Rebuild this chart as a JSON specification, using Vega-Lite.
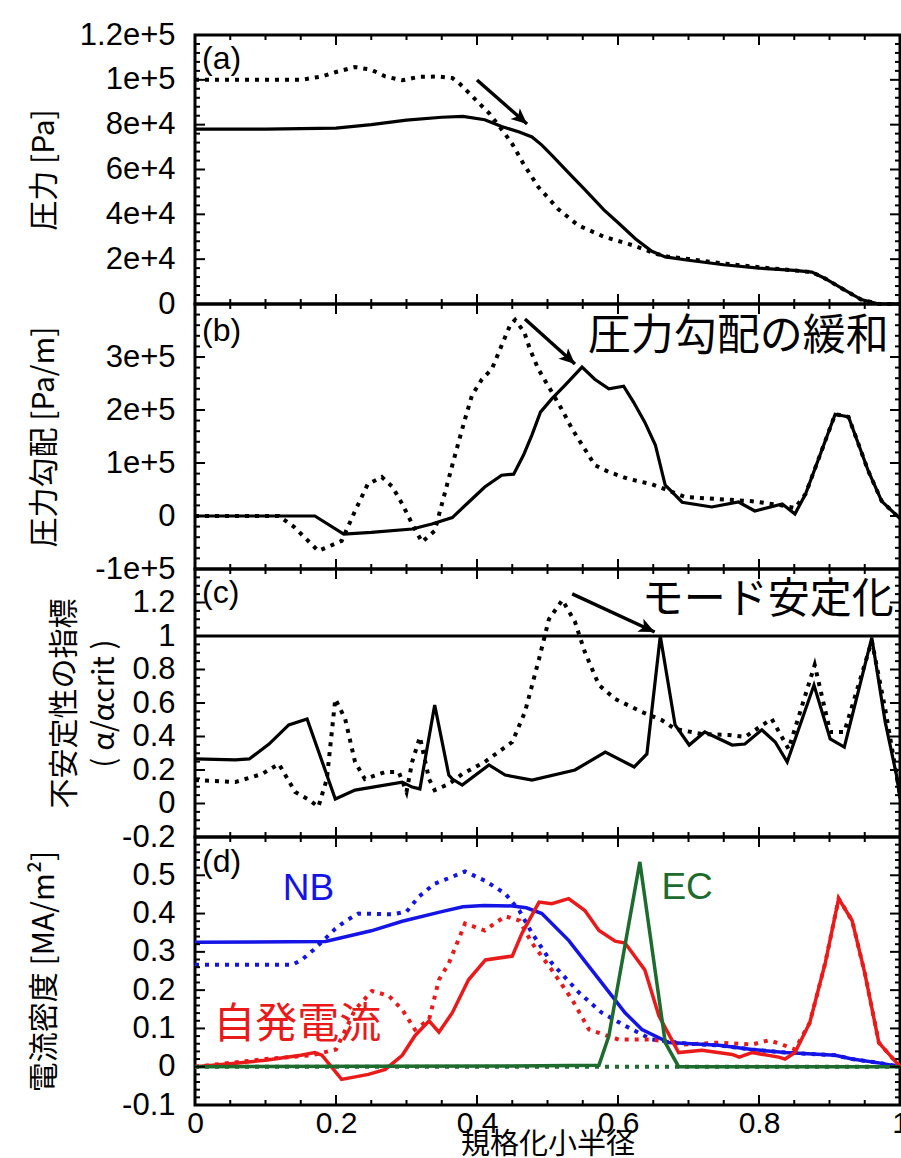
{
  "$schema": "https://vega.github.io/schema/vega-lite/v6.json",
  "padding": {"left": 27, "top": 17, "right": 0, "bottom": 0},
  "spacing": 0,
  "bounds": "flush",
  "datasets": {
    "pa": [
      {"c":"s","r":0,"v":78000},{"c":"s","r":0.1,"v":78000},{"c":"s","r":0.2,"v":78500},{"c":"s","r":0.25,"v":80000},{"c":"s","r":0.3,"v":82000},{"c":"s","r":0.35,"v":83300},{"c":"s","r":0.38,"v":83700},{"c":"s","r":0.411,"v":82200},{"c":"s","r":0.435,"v":79200},{"c":"s","r":0.46,"v":76700},{"c":"s","r":0.478,"v":74500},{"c":"s","r":0.492,"v":70900},{"c":"s","r":0.506,"v":66400},{"c":"s","r":0.53,"v":58500},{"c":"s","r":0.553,"v":51000},{"c":"s","r":0.58,"v":42000},{"c":"s","r":0.601,"v":36000},{"c":"s","r":0.625,"v":29000},{"c":"s","r":0.648,"v":23500},{"c":"s","r":0.667,"v":21000},{"c":"s","r":0.7,"v":19500},{"c":"s","r":0.75,"v":17500},{"c":"s","r":0.8,"v":16000},{"c":"s","r":0.85,"v":15000},{"c":"s","r":0.875,"v":14200},{"c":"s","r":0.893,"v":11500},{"c":"s","r":0.92,"v":6500},{"c":"s","r":0.945,"v":2000},{"c":"s","r":0.97,"v":0},{"c":"s","r":1,"v":0},
      {"c":"d","r":0,"v":100000},{"c":"d","r":0.15,"v":100000},{"c":"d","r":0.18,"v":101500},{"c":"d","r":0.2,"v":103500},{"c":"d","r":0.227,"v":105700},{"c":"d","r":0.25,"v":104500},{"c":"d","r":0.27,"v":101500},{"c":"d","r":0.294,"v":99800},{"c":"d","r":0.317,"v":101300},{"c":"d","r":0.345,"v":101500},{"c":"d","r":0.365,"v":100800},{"c":"d","r":0.376,"v":98100},{"c":"d","r":0.39,"v":93700},{"c":"d","r":0.404,"v":89200},{"c":"d","r":0.418,"v":84800},{"c":"d","r":0.44,"v":75800},{"c":"d","r":0.45,"v":71400},{"c":"d","r":0.465,"v":63000},{"c":"d","r":0.487,"v":52200},{"c":"d","r":0.515,"v":42400},{"c":"d","r":0.543,"v":35200},{"c":"d","r":0.58,"v":30000},{"c":"d","r":0.62,"v":26300},{"c":"d","r":0.655,"v":22300},{"c":"d","r":0.67,"v":21200},{"c":"d","r":0.7,"v":20100},{"c":"d","r":0.75,"v":18100},{"c":"d","r":0.8,"v":16400},{"c":"d","r":0.85,"v":15000},{"c":"d","r":0.875,"v":14200},{"c":"d","r":0.893,"v":11500},{"c":"d","r":0.92,"v":6500},{"c":"d","r":0.945,"v":2000},{"c":"d","r":0.97,"v":0},{"c":"d","r":1,"v":0}
    ],
    "pb": [
      {"c":"s","r":0,"v":0},{"c":"s","r":0.1,"v":0},{"c":"s","r":0.17,"v":0},{"c":"s","r":0.211,"v":-34000},{"c":"s","r":0.25,"v":-31000},{"c":"s","r":0.308,"v":-24500},{"c":"s","r":0.336,"v":-15000},{"c":"s","r":0.365,"v":-3000},{"c":"s","r":0.388,"v":26000},{"c":"s","r":0.411,"v":54700},{"c":"s","r":0.435,"v":77000},{"c":"s","r":0.452,"v":79000},{"c":"s","r":0.466,"v":115000},{"c":"s","r":0.478,"v":153000},{"c":"s","r":0.49,"v":196000},{"c":"s","r":0.506,"v":221000},{"c":"s","r":0.525,"v":247000},{"c":"s","r":0.549,"v":281000},{"c":"s","r":0.567,"v":258000},{"c":"s","r":0.587,"v":240000},{"c":"s","r":0.608,"v":245000},{"c":"s","r":0.622,"v":215000},{"c":"s","r":0.638,"v":177000},{"c":"s","r":0.653,"v":134000},{"c":"s","r":0.667,"v":58000},{"c":"s","r":0.677,"v":45000},{"c":"s","r":0.691,"v":26000},{"c":"s","r":0.733,"v":17000},{"c":"s","r":0.771,"v":26400},{"c":"s","r":0.794,"v":9400},{"c":"s","r":0.833,"v":22600},{"c":"s","r":0.851,"v":3800},{"c":"s","r":0.866,"v":41500},{"c":"s","r":0.908,"v":192000},{"c":"s","r":0.927,"v":187000},{"c":"s","r":0.955,"v":85000},{"c":"s","r":0.974,"v":28000},{"c":"s","r":1,"v":-5000},
      {"c":"d","r":0,"v":0},{"c":"d","r":0.119,"v":0},{"c":"d","r":0.14,"v":-20000},{"c":"d","r":0.175,"v":-66000},{"c":"d","r":0.208,"v":-47000},{"c":"d","r":0.227,"v":9400},{"c":"d","r":0.245,"v":60000},{"c":"d","r":0.265,"v":73600},{"c":"d","r":0.28,"v":55000},{"c":"d","r":0.294,"v":22600},{"c":"d","r":0.31,"v":-20000},{"c":"d","r":0.322,"v":-49000},{"c":"d","r":0.34,"v":-28000},{"c":"d","r":0.365,"v":96000},{"c":"d","r":0.374,"v":140000},{"c":"d","r":0.383,"v":183000},{"c":"d","r":0.393,"v":228000},{"c":"d","r":0.407,"v":258000},{"c":"d","r":0.421,"v":277000},{"c":"d","r":0.435,"v":322000},{"c":"d","r":0.447,"v":360000},{"c":"d","r":0.454,"v":370000},{"c":"d","r":0.467,"v":347000},{"c":"d","r":0.475,"v":315000},{"c":"d","r":0.487,"v":277000},{"c":"d","r":0.506,"v":234000},{"c":"d","r":0.52,"v":202000},{"c":"d","r":0.535,"v":164000},{"c":"d","r":0.553,"v":126000},{"c":"d","r":0.567,"v":96000},{"c":"d","r":0.587,"v":83000},{"c":"d","r":0.615,"v":70000},{"c":"d","r":0.648,"v":60000},{"c":"d","r":0.695,"v":36000},{"c":"d","r":0.74,"v":32000},{"c":"d","r":0.79,"v":28000},{"c":"d","r":0.837,"v":19000},{"c":"d","r":0.851,"v":15000},{"c":"d","r":0.866,"v":41500},{"c":"d","r":0.908,"v":192000},{"c":"d","r":0.927,"v":187000},{"c":"d","r":0.955,"v":85000},{"c":"d","r":0.974,"v":28000},{"c":"d","r":1,"v":-5000}
    ],
    "pc": [
      {"c":"s","r":0,"v":0.266},{"c":"s","r":0.057,"v":0.26},{"c":"s","r":0.077,"v":0.266},{"c":"s","r":0.105,"v":0.355},{"c":"s","r":0.133,"v":0.469},{"c":"s","r":0.159,"v":0.505},{"c":"s","r":0.199,"v":0.027},{"c":"s","r":0.227,"v":0.08},{"c":"s","r":0.294,"v":0.128},{"c":"s","r":0.308,"v":0.098},{"c":"s","r":0.319,"v":0.087},{"c":"s","r":0.34,"v":0.588},{"c":"s","r":0.36,"v":0.17},{"c":"s","r":0.365,"v":0.146},{"c":"s","r":0.379,"v":0.11},{"c":"s","r":0.417,"v":0.23},{"c":"s","r":0.44,"v":0.17},{"c":"s","r":0.478,"v":0.14},{"c":"s","r":0.539,"v":0.2},{"c":"s","r":0.582,"v":0.307},{"c":"s","r":0.623,"v":0.218},{"c":"s","r":0.641,"v":0.296},{"c":"s","r":0.66,"v":1.0},{"c":"s","r":0.681,"v":0.469},{"c":"s","r":0.701,"v":0.349},{"c":"s","r":0.723,"v":0.427},{"c":"s","r":0.762,"v":0.349},{"c":"s","r":0.78,"v":0.355},{"c":"s","r":0.804,"v":0.44},{"c":"s","r":0.823,"v":0.367},{"c":"s","r":0.84,"v":0.248},{"c":"s","r":0.878,"v":0.707},{"c":"s","r":0.901,"v":0.385},{"c":"s","r":0.921,"v":0.337},{"c":"s","r":0.96,"v":0.99},{"c":"s","r":0.979,"v":0.487},{"c":"s","r":0.995,"v":0.17},{"c":"s","r":1,"v":0.03},
      {"c":"d","r":0,"v":0.14},{"c":"d","r":0.057,"v":0.128},{"c":"d","r":0.095,"v":0.176},{"c":"d","r":0.119,"v":0.236},{"c":"d","r":0.142,"v":0.069},{"c":"d","r":0.162,"v":0.021},{"c":"d","r":0.175,"v":-0.02},{"c":"d","r":0.187,"v":0.146},{"c":"d","r":0.199,"v":0.624},{"c":"d","r":0.213,"v":0.505},{"c":"d","r":0.227,"v":0.248},{"c":"d","r":0.241,"v":0.146},{"c":"d","r":0.27,"v":0.188},{"c":"d","r":0.289,"v":0.188},{"c":"d","r":0.3,"v":0.069},{"c":"d","r":0.308,"v":0.248},{"c":"d","r":0.319,"v":0.397},{"c":"d","r":0.332,"v":0.146},{"c":"d","r":0.34,"v":0.08},{"c":"d","r":0.36,"v":0.116},{"c":"d","r":0.379,"v":0.176},{"c":"d","r":0.411,"v":0.248},{"c":"d","r":0.45,"v":0.367},{"c":"d","r":0.468,"v":0.546},{"c":"d","r":0.488,"v":0.863},{"c":"d","r":0.502,"v":1.1},{"c":"d","r":0.521,"v":1.215},{"c":"d","r":0.539,"v":1.084},{"c":"d","r":0.553,"v":0.904},{"c":"d","r":0.573,"v":0.707},{"c":"d","r":0.596,"v":0.624},{"c":"d","r":0.634,"v":0.546},{"c":"d","r":0.662,"v":0.498},{"c":"d","r":0.681,"v":0.445},{"c":"d","r":0.719,"v":0.415},{"c":"d","r":0.757,"v":0.409},{"c":"d","r":0.78,"v":0.397},{"c":"d","r":0.818,"v":0.505},{"c":"d","r":0.842,"v":0.325},{"c":"d","r":0.879,"v":0.827},{"c":"d","r":0.901,"v":0.427},{"c":"d","r":0.921,"v":0.427},{"c":"d","r":0.96,"v":0.97},{"c":"d","r":0.979,"v":0.564},{"c":"d","r":1,"v":0.05}
    ],
    "pd": [
      {"s":"NB","c":"s","r":0,"v":0.325},{"s":"NB","c":"s","r":0.185,"v":0.327},{"s":"NB","c":"s","r":0.25,"v":0.355},{"s":"NB","c":"s","r":0.294,"v":0.38},{"s":"NB","c":"s","r":0.35,"v":0.405},{"s":"NB","c":"s","r":0.38,"v":0.418},{"s":"NB","c":"s","r":0.41,"v":0.421},{"s":"NB","c":"s","r":0.45,"v":0.42},{"s":"NB","c":"s","r":0.47,"v":0.415},{"s":"NB","c":"s","r":0.492,"v":0.4},{"s":"NB","c":"s","r":0.53,"v":0.33},{"s":"NB","c":"s","r":0.577,"v":0.219},{"s":"NB","c":"s","r":0.61,"v":0.141},{"s":"NB","c":"s","r":0.634,"v":0.097},{"s":"NB","c":"s","r":0.672,"v":0.063},{"s":"NB","c":"s","r":0.743,"v":0.056},{"s":"NB","c":"s","r":0.79,"v":0.045},{"s":"NB","c":"s","r":0.837,"v":0.037},{"s":"NB","c":"s","r":0.908,"v":0.03},{"s":"NB","c":"s","r":0.932,"v":0.02},{"s":"NB","c":"s","r":0.97,"v":0.01},{"s":"NB","c":"s","r":1,"v":0},
      {"s":"NB","c":"d","r":0,"v":0.266},{"s":"NB","c":"d","r":0.138,"v":0.266},{"s":"NB","c":"d","r":0.152,"v":0.28},{"s":"NB","c":"d","r":0.168,"v":0.305},{"s":"NB","c":"d","r":0.199,"v":0.36},{"s":"NB","c":"d","r":0.213,"v":0.38},{"s":"NB","c":"d","r":0.232,"v":0.4},{"s":"NB","c":"d","r":0.28,"v":0.398},{"s":"NB","c":"d","r":0.3,"v":0.405},{"s":"NB","c":"d","r":0.318,"v":0.445},{"s":"NB","c":"d","r":0.34,"v":0.478},{"s":"NB","c":"d","r":0.365,"v":0.496},{"s":"NB","c":"d","r":0.383,"v":0.51},{"s":"NB","c":"d","r":0.411,"v":0.486},{"s":"NB","c":"d","r":0.44,"v":0.452},{"s":"NB","c":"d","r":0.46,"v":0.408},{"s":"NB","c":"d","r":0.478,"v":0.349},{"s":"NB","c":"d","r":0.506,"v":0.271},{"s":"NB","c":"d","r":0.545,"v":0.193},{"s":"NB","c":"d","r":0.577,"v":0.141},{"s":"NB","c":"d","r":0.61,"v":0.107},{"s":"NB","c":"d","r":0.648,"v":0.071},{"s":"NB","c":"d","r":0.7,"v":0.06},{"s":"NB","c":"d","r":0.743,"v":0.056},{"s":"NB","c":"d","r":0.79,"v":0.045},{"s":"NB","c":"d","r":0.837,"v":0.037},{"s":"NB","c":"d","r":0.908,"v":0.03},{"s":"NB","c":"d","r":0.932,"v":0.02},{"s":"NB","c":"d","r":0.97,"v":0.01},{"s":"NB","c":"d","r":1,"v":0},
      {"s":"BS","c":"s","r":0,"v":0},{"s":"BS","c":"s","r":0.05,"v":0.008},{"s":"BS","c":"s","r":0.1,"v":0.017},{"s":"BS","c":"s","r":0.15,"v":0.03},{"s":"BS","c":"s","r":0.17,"v":0.037},{"s":"BS","c":"s","r":0.18,"v":0.03},{"s":"BS","c":"s","r":0.208,"v":-0.033},{"s":"BS","c":"s","r":0.246,"v":-0.02},{"s":"BS","c":"s","r":0.27,"v":-0.007},{"s":"BS","c":"s","r":0.294,"v":0.03},{"s":"BS","c":"s","r":0.312,"v":0.081},{"s":"BS","c":"s","r":0.332,"v":0.12},{"s":"BS","c":"s","r":0.346,"v":0.09},{"s":"BS","c":"s","r":0.365,"v":0.141},{"s":"BS","c":"s","r":0.388,"v":0.227},{"s":"BS","c":"s","r":0.412,"v":0.279},{"s":"BS","c":"s","r":0.45,"v":0.289},{"s":"BS","c":"s","r":0.464,"v":0.349},{"s":"BS","c":"s","r":0.488,"v":0.43},{"s":"BS","c":"s","r":0.506,"v":0.426},{"s":"BS","c":"s","r":0.53,"v":0.439},{"s":"BS","c":"s","r":0.553,"v":0.408},{"s":"BS","c":"s","r":0.573,"v":0.356},{"s":"BS","c":"s","r":0.596,"v":0.328},{"s":"BS","c":"s","r":0.61,"v":0.323},{"s":"BS","c":"s","r":0.638,"v":0.253},{"s":"BS","c":"s","r":0.658,"v":0.133},{"s":"BS","c":"s","r":0.686,"v":0.037},{"s":"BS","c":"s","r":0.719,"v":0.043},{"s":"BS","c":"s","r":0.762,"v":0.032},{"s":"BS","c":"s","r":0.772,"v":0.025},{"s":"BS","c":"s","r":0.79,"v":0.037},{"s":"BS","c":"s","r":0.828,"v":0.025},{"s":"BS","c":"s","r":0.837,"v":0.02},{"s":"BS","c":"s","r":0.851,"v":0.037},{"s":"BS","c":"s","r":0.872,"v":0.115},{"s":"BS","c":"s","r":0.894,"v":0.271},{"s":"BS","c":"s","r":0.913,"v":0.439},{"s":"BS","c":"s","r":0.932,"v":0.382},{"s":"BS","c":"s","r":0.95,"v":0.245},{"s":"BS","c":"s","r":0.97,"v":0.063},{"s":"BS","c":"s","r":1,"v":0},
      {"s":"BS","c":"d","r":0,"v":0},{"s":"BS","c":"d","r":0.05,"v":0.01},{"s":"BS","c":"d","r":0.1,"v":0.02},{"s":"BS","c":"d","r":0.166,"v":0.03},{"s":"BS","c":"d","r":0.2,"v":0.045},{"s":"BS","c":"d","r":0.227,"v":0.149},{"s":"BS","c":"d","r":0.251,"v":0.198},{"s":"BS","c":"d","r":0.275,"v":0.185},{"s":"BS","c":"d","r":0.294,"v":0.149},{"s":"BS","c":"d","r":0.312,"v":0.097},{"s":"BS","c":"d","r":0.332,"v":0.123},{"s":"BS","c":"d","r":0.346,"v":0.227},{"s":"BS","c":"d","r":0.36,"v":0.27},{"s":"BS","c":"d","r":0.383,"v":0.374},{"s":"BS","c":"d","r":0.411,"v":0.356},{"s":"BS","c":"d","r":0.44,"v":0.393},{"s":"BS","c":"d","r":0.46,"v":0.382},{"s":"BS","c":"d","r":0.478,"v":0.323},{"s":"BS","c":"d","r":0.506,"v":0.253},{"s":"BS","c":"d","r":0.535,"v":0.175},{"s":"BS","c":"d","r":0.559,"v":0.097},{"s":"BS","c":"d","r":0.601,"v":0.071},{"s":"BS","c":"d","r":0.648,"v":0.071},{"s":"BS","c":"d","r":0.695,"v":0.058},{"s":"BS","c":"d","r":0.743,"v":0.063},{"s":"BS","c":"d","r":0.79,"v":0.058},{"s":"BS","c":"d","r":0.814,"v":0.069},{"s":"BS","c":"d","r":0.833,"v":0.058},{"s":"BS","c":"d","r":0.851,"v":0.045},{"s":"BS","c":"d","r":0.872,"v":0.115},{"s":"BS","c":"d","r":0.894,"v":0.271},{"s":"BS","c":"d","r":0.913,"v":0.439},{"s":"BS","c":"d","r":0.932,"v":0.382},{"s":"BS","c":"d","r":0.95,"v":0.245},{"s":"BS","c":"d","r":0.97,"v":0.063},{"s":"BS","c":"d","r":1,"v":0},
      {"s":"EC","c":"s","r":0,"v":0},{"s":"EC","c":"s","r":0.45,"v":0.002},{"s":"EC","c":"s","r":0.573,"v":0.004},{"s":"EC","c":"s","r":0.587,"v":0.08},{"s":"EC","c":"s","r":0.631,"v":0.535},{"s":"EC","c":"s","r":0.667,"v":0.063},{"s":"EC","c":"s","r":0.686,"v":0},{"s":"EC","c":"s","r":1,"v":0},
      {"s":"EC","c":"d","r":0,"v":0},{"s":"EC","c":"d","r":1,"v":0}
    ],
    "ann": [
      {"p":"a","k":"tag","r":0.01,"v":109300,"t":"(a)"},
      {"p":"b","k":"tag","r":0.01,"v":349000,"t":"(b)"},
      {"p":"c","k":"tag","r":0.01,"v":1.257,"t":"(c)"},
      {"p":"d","k":"tag","r":0.01,"v":0.535,"t":"(d)"},
      {"p":"b","k":"big","r":0.984,"v":337700,"t":"圧力勾配の緩和"},
      {"p":"c","k":"big","r":0.991,"v":1.215,"t":"モード安定化"},
      {"p":"d","k":"NB","r":0.161,"v":0.465,"t":"NB"},
      {"p":"d","k":"EC","r":0.698,"v":0.468,"t":"EC"},
      {"p":"d","k":"BS","r":0.145,"v":0.11,"t":"自発電流"}
    ],
    "arr": [
      {"p":"a","r":0.4,"v":99900,"r2":0.471,"v2":80300},
      {"p":"b","r":0.468,"v":371700,"r2":0.539,"v2":286800},
      {"p":"c","r":0.535,"v":1.251,"r2":0.652,"v2":1.024}
    ],
    "ref": [{"p":"c","v":1}],
    "xt": [
      {"r":0,"m":"M"},{"r":0.05,"m":"m"},{"r":0.1,"m":"m"},{"r":0.15,"m":"m"},{"r":0.2,"m":"M"},{"r":0.25,"m":"m"},{"r":0.3,"m":"m"},{"r":0.35,"m":"m"},{"r":0.4,"m":"M"},{"r":0.45,"m":"m"},{"r":0.5,"m":"m"},{"r":0.55,"m":"m"},{"r":0.6,"m":"M"},{"r":0.65,"m":"m"},{"r":0.7,"m":"m"},{"r":0.75,"m":"m"},{"r":0.8,"m":"M"},{"r":0.85,"m":"m"},{"r":0.9,"m":"m"},{"r":0.95,"m":"m"},{"r":1,"m":"M"}
    ],
    "yt": [
      {"p":"a","v":0,"m":"M"},{"p":"a","v":20000,"m":"M"},{"p":"a","v":40000,"m":"M"},{"p":"a","v":60000,"m":"M"},{"p":"a","v":80000,"m":"M"},{"p":"a","v":100000,"m":"M"},{"p":"a","v":120000,"m":"M"},
      {"p":"a","v":4000,"m":"m"},{"p":"a","v":8000,"m":"m"},{"p":"a","v":12000,"m":"m"},{"p":"a","v":16000,"m":"m"},{"p":"a","v":24000,"m":"m"},{"p":"a","v":28000,"m":"m"},{"p":"a","v":32000,"m":"m"},{"p":"a","v":36000,"m":"m"},{"p":"a","v":44000,"m":"m"},{"p":"a","v":48000,"m":"m"},{"p":"a","v":52000,"m":"m"},{"p":"a","v":56000,"m":"m"},{"p":"a","v":64000,"m":"m"},{"p":"a","v":68000,"m":"m"},{"p":"a","v":72000,"m":"m"},{"p":"a","v":76000,"m":"m"},{"p":"a","v":84000,"m":"m"},{"p":"a","v":88000,"m":"m"},{"p":"a","v":92000,"m":"m"},{"p":"a","v":96000,"m":"m"},{"p":"a","v":104000,"m":"m"},{"p":"a","v":108000,"m":"m"},{"p":"a","v":112000,"m":"m"},{"p":"a","v":116000,"m":"m"},
      {"p":"b","v":-100000,"m":"M"},{"p":"b","v":0,"m":"M"},{"p":"b","v":100000,"m":"M"},{"p":"b","v":200000,"m":"M"},{"p":"b","v":300000,"m":"M"},{"p":"b","v":400000,"m":"M"},
      {"p":"b","v":-80000,"m":"m"},{"p":"b","v":-60000,"m":"m"},{"p":"b","v":-40000,"m":"m"},{"p":"b","v":-20000,"m":"m"},{"p":"b","v":20000,"m":"m"},{"p":"b","v":40000,"m":"m"},{"p":"b","v":60000,"m":"m"},{"p":"b","v":80000,"m":"m"},{"p":"b","v":120000,"m":"m"},{"p":"b","v":140000,"m":"m"},{"p":"b","v":160000,"m":"m"},{"p":"b","v":180000,"m":"m"},{"p":"b","v":220000,"m":"m"},{"p":"b","v":240000,"m":"m"},{"p":"b","v":260000,"m":"m"},{"p":"b","v":280000,"m":"m"},{"p":"b","v":320000,"m":"m"},{"p":"b","v":340000,"m":"m"},{"p":"b","v":360000,"m":"m"},{"p":"b","v":380000,"m":"m"},
      {"p":"c","v":-0.2,"m":"M"},{"p":"c","v":0,"m":"M"},{"p":"c","v":0.2,"m":"M"},{"p":"c","v":0.4,"m":"M"},{"p":"c","v":0.6,"m":"M"},{"p":"c","v":0.8,"m":"M"},{"p":"c","v":1,"m":"M"},{"p":"c","v":1.2,"m":"M"},{"p":"c","v":1.4,"m":"M"},
      {"p":"c","v":-0.15,"m":"m"},{"p":"c","v":-0.1,"m":"m"},{"p":"c","v":-0.05,"m":"m"},{"p":"c","v":0.05,"m":"m"},{"p":"c","v":0.1,"m":"m"},{"p":"c","v":0.15,"m":"m"},{"p":"c","v":0.25,"m":"m"},{"p":"c","v":0.3,"m":"m"},{"p":"c","v":0.35,"m":"m"},{"p":"c","v":0.45,"m":"m"},{"p":"c","v":0.5,"m":"m"},{"p":"c","v":0.55,"m":"m"},{"p":"c","v":0.65,"m":"m"},{"p":"c","v":0.7,"m":"m"},{"p":"c","v":0.75,"m":"m"},{"p":"c","v":0.85,"m":"m"},{"p":"c","v":0.9,"m":"m"},{"p":"c","v":0.95,"m":"m"},{"p":"c","v":1.05,"m":"m"},{"p":"c","v":1.1,"m":"m"},{"p":"c","v":1.15,"m":"m"},{"p":"c","v":1.25,"m":"m"},{"p":"c","v":1.3,"m":"m"},{"p":"c","v":1.35,"m":"m"},
      {"p":"d","v":-0.1,"m":"M"},{"p":"d","v":0,"m":"M"},{"p":"d","v":0.1,"m":"M"},{"p":"d","v":0.2,"m":"M"},{"p":"d","v":0.3,"m":"M"},{"p":"d","v":0.4,"m":"M"},{"p":"d","v":0.5,"m":"M"},{"p":"d","v":0.6,"m":"M"},
      {"p":"d","v":-0.08,"m":"m"},{"p":"d","v":-0.06,"m":"m"},{"p":"d","v":-0.04,"m":"m"},{"p":"d","v":-0.02,"m":"m"},{"p":"d","v":0.02,"m":"m"},{"p":"d","v":0.04,"m":"m"},{"p":"d","v":0.06,"m":"m"},{"p":"d","v":0.08,"m":"m"},{"p":"d","v":0.12,"m":"m"},{"p":"d","v":0.14,"m":"m"},{"p":"d","v":0.16,"m":"m"},{"p":"d","v":0.18,"m":"m"},{"p":"d","v":0.22,"m":"m"},{"p":"d","v":0.24,"m":"m"},{"p":"d","v":0.26,"m":"m"},{"p":"d","v":0.28,"m":"m"},{"p":"d","v":0.32,"m":"m"},{"p":"d","v":0.34,"m":"m"},{"p":"d","v":0.36,"m":"m"},{"p":"d","v":0.38,"m":"m"},{"p":"d","v":0.42,"m":"m"},{"p":"d","v":0.44,"m":"m"},{"p":"d","v":0.46,"m":"m"},{"p":"d","v":0.48,"m":"m"},{"p":"d","v":0.52,"m":"m"},{"p":"d","v":0.54,"m":"m"},{"p":"d","v":0.56,"m":"m"},{"p":"d","v":0.58,"m":"m"}
    ]
  },
  "vconcat": [
    {
      "width": 705, "height": 269,
      "resolve": {"axis": {"x": "independent", "y": "independent"}},
      "layer": [
        {"data": {"name": "pa"}, "transform": [{"filter": "datum.c == 'd'"}],
         "mark": {"type": "line", "color": "black", "strokeWidth": 4, "strokeDash": [4, 6]},
         "encoding": {
           "x": {"field": "r", "type": "quantitative", "scale": {"domain": [0, 1], "nice": false, "zero": false}, "axis": null},
           "y": {"field": "v", "type": "quantitative", "scale": {"domain": [0, 120000], "nice": false, "zero": false},
                 "axis": {"orient": "left", "values": [0,20000,40000,60000,80000,100000,120000],
                          "labelExpr": "datum.value == 0 ? '0' : format(datum.value, '~e')",
                          "ticks": false, "labelPadding": 20, "title": "圧力 [Pa]", "titleX": -151, "titleBaseline": "middle"}}
         }},
        {"data": {"name": "pa"}, "transform": [{"filter": "datum.c == 's'"}],
         "mark": {"type": "line", "color": "black", "strokeWidth": 3.2},
         "encoding": {
           "x": {"field": "r", "type": "quantitative", "scale": {"domain": [0, 1], "nice": false, "zero": false}, "axis": null},
           "y": {"field": "v", "type": "quantitative", "scale": {"domain": [0, 120000], "nice": false, "zero": false}, "axis": null}
         }},
        {"data": {"name": "arr"}, "transform": [{"filter": "datum.p == 'a'"}],
         "mark": {"type": "rule", "color": "black", "strokeWidth": 3.5},
         "encoding": {
           "x": {"field": "r", "type": "quantitative", "scale": {"domain": [0, 1], "nice": false, "zero": false}, "axis": null},
           "y": {"field": "v", "type": "quantitative", "scale": {"domain": [0, 120000], "nice": false, "zero": false}, "axis": null},
           "x2": {"field": "r2"}, "y2": {"field": "v2"}
         }},
        {"data": {"name": "arr"}, "transform": [{"filter": "datum.p == 'a'"}],
         "mark": {"type": "point", "shape": "M0,0 L-1,-0.45 L-0.75,0 L-1,0.45 Z", "filled": true, "color": "black", "opacity": 1, "size": 1000, "angle": 41},
         "encoding": {
           "x": {"field": "r2", "type": "quantitative", "scale": {"domain": [0, 1], "nice": false, "zero": false}, "axis": null},
           "y": {"field": "v2", "type": "quantitative", "scale": {"domain": [0, 120000], "nice": false, "zero": false}, "axis": null}
         }},
        {"data": {"name": "ann"}, "transform": [{"filter": "datum.p == 'a' && datum.k == 'tag'"}],
         "mark": {"type": "text", "align": "left", "baseline": "middle", "font": "Liberation Sans", "fontSize": 32, "color": "black"},
         "encoding": {
           "x": {"field": "r", "type": "quantitative", "scale": {"domain": [0, 1], "nice": false, "zero": false}, "axis": null},
           "y": {"field": "v", "type": "quantitative", "scale": {"domain": [0, 120000], "nice": false, "zero": false}, "axis": null},
           "text": {"field": "t"}
         }},
        {"data": {"name": "yt"}, "transform": [{"filter": "datum.p == 'a'"}],
         "mark": {"type": "tick", "orient": "horizontal", "clip": true, "thickness": 2, "color": "black", "opacity": 1},
         "encoding": {
           "x": {"datum": 0, "type": "quantitative", "scale": {"domain": [0, 1], "nice": false, "zero": false}, "axis": null},
           "y": {"field": "v", "type": "quantitative", "scale": {"domain": [0, 120000], "nice": false, "zero": false}, "axis": null},
           "size": {"field": "m", "type": "ordinal", "scale": {"domain": ["M", "m"], "range": [20, 10]}, "legend": null}
         }},
        {"data": {"name": "yt"}, "transform": [{"filter": "datum.p == 'a'"}],
         "mark": {"type": "tick", "orient": "horizontal", "clip": true, "thickness": 2, "color": "black", "opacity": 1},
         "encoding": {
           "x": {"datum": 1, "type": "quantitative", "scale": {"domain": [0, 1], "nice": false, "zero": false}, "axis": null},
           "y": {"field": "v", "type": "quantitative", "scale": {"domain": [0, 120000], "nice": false, "zero": false}, "axis": null},
           "size": {"field": "m", "type": "ordinal", "scale": {"domain": ["M", "m"], "range": [20, 10]}, "legend": null}
         }},
        {"data": {"name": "xt"},
         "mark": {"type": "tick", "orient": "vertical", "clip": true, "thickness": 2, "color": "black", "opacity": 1},
         "encoding": {
           "x": {"field": "r", "type": "quantitative", "scale": {"domain": [0, 1], "nice": false, "zero": false}, "axis": null},
           "y": {"datum": 0, "type": "quantitative", "scale": {"domain": [0, 120000], "nice": false, "zero": false}, "axis": null},
           "size": {"field": "m", "type": "ordinal", "scale": {"domain": ["M", "m"], "range": [20, 10]}, "legend": null}
         }},
        {"data": {"name": "xt"},
         "mark": {"type": "tick", "orient": "vertical", "clip": true, "thickness": 2, "color": "black", "opacity": 1},
         "encoding": {
           "x": {"field": "r", "type": "quantitative", "scale": {"domain": [0, 1], "nice": false, "zero": false}, "axis": null},
           "y": {"datum": 120000, "type": "quantitative", "scale": {"domain": [0, 120000], "nice": false, "zero": false}, "axis": null},
           "size": {"field": "m", "type": "ordinal", "scale": {"domain": ["M", "m"], "range": [20, 10]}, "legend": null}
         }}
      ]
    },
    {
      "width": 705, "height": 265,
      "resolve": {"axis": {"x": "independent", "y": "independent"}},
      "layer": [
        {"data": {"name": "pb"}, "transform": [{"filter": "datum.c == 'd'"}],
         "mark": {"type": "line", "color": "black", "strokeWidth": 4, "strokeDash": [4, 6]},
         "encoding": {
           "x": {"field": "r", "type": "quantitative", "scale": {"domain": [0, 1], "nice": false, "zero": false}, "axis": null},
           "y": {"field": "v", "type": "quantitative", "scale": {"domain": [-100000, 400000], "nice": false, "zero": false},
                 "axis": {"orient": "left", "values": [-100000,0,100000,200000,300000,400000],
                          "labelExpr": "datum.value < 350000 ? (datum.value == 0 ? '0' : replace(format(datum.value, '~e'), '−', '-')) : ''",
                          "ticks": false, "labelPadding": 20, "title": "圧力勾配 [Pa/m]", "titleX": -151, "titleBaseline": "middle"}}
         }},
        {"data": {"name": "pb"}, "transform": [{"filter": "datum.c == 's'"}],
         "mark": {"type": "line", "color": "black", "strokeWidth": 3.2},
         "encoding": {
           "x": {"field": "r", "type": "quantitative", "scale": {"domain": [0, 1], "nice": false, "zero": false}, "axis": null},
           "y": {"field": "v", "type": "quantitative", "scale": {"domain": [-100000, 400000], "nice": false, "zero": false}, "axis": null}
         }},
        {"data": {"name": "arr"}, "transform": [{"filter": "datum.p == 'b'"}],
         "mark": {"type": "rule", "color": "black", "strokeWidth": 3.5},
         "encoding": {
           "x": {"field": "r", "type": "quantitative", "scale": {"domain": [0, 1], "nice": false, "zero": false}, "axis": null},
           "y": {"field": "v", "type": "quantitative", "scale": {"domain": [-100000, 400000], "nice": false, "zero": false}, "axis": null},
           "x2": {"field": "r2"}, "y2": {"field": "v2"}
         }},
        {"data": {"name": "arr"}, "transform": [{"filter": "datum.p == 'b'"}],
         "mark": {"type": "point", "shape": "M0,0 L-1,-0.45 L-0.75,0 L-1,0.45 Z", "filled": true, "color": "black", "opacity": 1, "size": 1000, "angle": 42},
         "encoding": {
           "x": {"field": "r2", "type": "quantitative", "scale": {"domain": [0, 1], "nice": false, "zero": false}, "axis": null},
           "y": {"field": "v2", "type": "quantitative", "scale": {"domain": [-100000, 400000], "nice": false, "zero": false}, "axis": null}
         }},
        {"data": {"name": "ann"}, "transform": [{"filter": "datum.p == 'b' && datum.k == 'tag'"}],
         "mark": {"type": "text", "align": "left", "baseline": "middle", "font": "Liberation Sans", "fontSize": 32, "color": "black"},
         "encoding": {
           "x": {"field": "r", "type": "quantitative", "scale": {"domain": [0, 1], "nice": false, "zero": false}, "axis": null},
           "y": {"field": "v", "type": "quantitative", "scale": {"domain": [-100000, 400000], "nice": false, "zero": false}, "axis": null},
           "text": {"field": "t"}
         }},
        {"data": {"name": "ann"}, "transform": [{"filter": "datum.p == 'b' && datum.k == 'big'"}],
         "mark": {"type": "text", "align": "right", "baseline": "middle", "font": "Noto Sans CJK JP", "fontSize": 43, "color": "black"},
         "encoding": {
           "x": {"field": "r", "type": "quantitative", "scale": {"domain": [0, 1], "nice": false, "zero": false}, "axis": null},
           "y": {"field": "v", "type": "quantitative", "scale": {"domain": [-100000, 400000], "nice": false, "zero": false}, "axis": null},
           "text": {"field": "t"}
         }},
        {"data": {"name": "yt"}, "transform": [{"filter": "datum.p == 'b'"}],
         "mark": {"type": "tick", "orient": "horizontal", "clip": true, "thickness": 2, "color": "black", "opacity": 1},
         "encoding": {
           "x": {"datum": 0, "type": "quantitative", "scale": {"domain": [0, 1], "nice": false, "zero": false}, "axis": null},
           "y": {"field": "v", "type": "quantitative", "scale": {"domain": [-100000, 400000], "nice": false, "zero": false}, "axis": null},
           "size": {"field": "m", "type": "ordinal", "scale": {"domain": ["M", "m"], "range": [20, 10]}, "legend": null}
         }},
        {"data": {"name": "yt"}, "transform": [{"filter": "datum.p == 'b'"}],
         "mark": {"type": "tick", "orient": "horizontal", "clip": true, "thickness": 2, "color": "black", "opacity": 1},
         "encoding": {
           "x": {"datum": 1, "type": "quantitative", "scale": {"domain": [0, 1], "nice": false, "zero": false}, "axis": null},
           "y": {"field": "v", "type": "quantitative", "scale": {"domain": [-100000, 400000], "nice": false, "zero": false}, "axis": null},
           "size": {"field": "m", "type": "ordinal", "scale": {"domain": ["M", "m"], "range": [20, 10]}, "legend": null}
         }},
        {"data": {"name": "xt"},
         "mark": {"type": "tick", "orient": "vertical", "clip": true, "thickness": 2, "color": "black", "opacity": 1},
         "encoding": {
           "x": {"field": "r", "type": "quantitative", "scale": {"domain": [0, 1], "nice": false, "zero": false}, "axis": null},
           "y": {"datum": -100000, "type": "quantitative", "scale": {"domain": [-100000, 400000], "nice": false, "zero": false}, "axis": null},
           "size": {"field": "m", "type": "ordinal", "scale": {"domain": ["M", "m"], "range": [20, 10]}, "legend": null}
         }},
        {"data": {"name": "xt"},
         "mark": {"type": "tick", "orient": "vertical", "clip": true, "thickness": 2, "color": "black", "opacity": 1},
         "encoding": {
           "x": {"field": "r", "type": "quantitative", "scale": {"domain": [0, 1], "nice": false, "zero": false}, "axis": null},
           "y": {"datum": 400000, "type": "quantitative", "scale": {"domain": [-100000, 400000], "nice": false, "zero": false}, "axis": null},
           "size": {"field": "m", "type": "ordinal", "scale": {"domain": ["M", "m"], "range": [20, 10]}, "legend": null}
         }}
      ]
    },
    {
      "width": 705, "height": 268,
      "resolve": {"axis": {"x": "independent", "y": "independent"}},
      "layer": [
        {"data": {"name": "ref"}, "transform": [{"filter": "datum.p == 'c'"}],
         "mark": {"type": "rule", "color": "black", "strokeWidth": 3},
         "encoding": {
           "y": {"field": "v", "type": "quantitative", "scale": {"domain": [-0.2, 1.4], "nice": false, "zero": false}, "axis": null}
         }},
        {"data": {"name": "pc"}, "transform": [{"filter": "datum.c == 'd'"}],
         "mark": {"type": "line", "color": "black", "strokeWidth": 4, "strokeDash": [4, 6]},
         "encoding": {
           "x": {"field": "r", "type": "quantitative", "scale": {"domain": [0, 1], "nice": false, "zero": false}, "axis": null},
           "y": {"field": "v", "type": "quantitative", "scale": {"domain": [-0.2, 1.4], "nice": false, "zero": false},
                 "axis": {"orient": "left", "values": [-0.2,0,0.2,0.4,0.6,0.8,1,1.2,1.4],
                          "labelExpr": "datum.value < 1.3 ? '' + datum.value : ''",
                          "ticks": false, "labelPadding": 20, "title": ["不安定性の指標", "( α/αcrit )"], "titleLineHeight": 40, "titleX": -131, "titleBaseline": "middle"}}
         }},
        {"data": {"name": "pc"}, "transform": [{"filter": "datum.c == 's'"}],
         "mark": {"type": "line", "color": "black", "strokeWidth": 3.2},
         "encoding": {
           "x": {"field": "r", "type": "quantitative", "scale": {"domain": [0, 1], "nice": false, "zero": false}, "axis": null},
           "y": {"field": "v", "type": "quantitative", "scale": {"domain": [-0.2, 1.4], "nice": false, "zero": false}, "axis": null}
         }},
        {"data": {"name": "arr"}, "transform": [{"filter": "datum.p == 'c'"}],
         "mark": {"type": "rule", "color": "black", "strokeWidth": 3.5},
         "encoding": {
           "x": {"field": "r", "type": "quantitative", "scale": {"domain": [0, 1], "nice": false, "zero": false}, "axis": null},
           "y": {"field": "v", "type": "quantitative", "scale": {"domain": [-0.2, 1.4], "nice": false, "zero": false}, "axis": null},
           "x2": {"field": "r2"}, "y2": {"field": "v2"}
         }},
        {"data": {"name": "arr"}, "transform": [{"filter": "datum.p == 'c'"}],
         "mark": {"type": "point", "shape": "M0,0 L-1,-0.45 L-0.75,0 L-1,0.45 Z", "filled": true, "color": "black", "opacity": 1, "size": 1000, "angle": 25},
         "encoding": {
           "x": {"field": "r2", "type": "quantitative", "scale": {"domain": [0, 1], "nice": false, "zero": false}, "axis": null},
           "y": {"field": "v2", "type": "quantitative", "scale": {"domain": [-0.2, 1.4], "nice": false, "zero": false}, "axis": null}
         }},
        {"data": {"name": "ann"}, "transform": [{"filter": "datum.p == 'c' && datum.k == 'tag'"}],
         "mark": {"type": "text", "align": "left", "baseline": "middle", "font": "Liberation Sans", "fontSize": 32, "color": "black"},
         "encoding": {
           "x": {"field": "r", "type": "quantitative", "scale": {"domain": [0, 1], "nice": false, "zero": false}, "axis": null},
           "y": {"field": "v", "type": "quantitative", "scale": {"domain": [-0.2, 1.4], "nice": false, "zero": false}, "axis": null},
           "text": {"field": "t"}
         }},
        {"data": {"name": "ann"}, "transform": [{"filter": "datum.p == 'c' && datum.k == 'big'"}],
         "mark": {"type": "text", "align": "right", "baseline": "middle", "font": "Noto Sans CJK JP", "fontSize": 42, "color": "black"},
         "encoding": {
           "x": {"field": "r", "type": "quantitative", "scale": {"domain": [0, 1], "nice": false, "zero": false}, "axis": null},
           "y": {"field": "v", "type": "quantitative", "scale": {"domain": [-0.2, 1.4], "nice": false, "zero": false}, "axis": null},
           "text": {"field": "t"}
         }},
        {"data": {"name": "yt"}, "transform": [{"filter": "datum.p == 'c'"}],
         "mark": {"type": "tick", "orient": "horizontal", "clip": true, "thickness": 2, "color": "black", "opacity": 1},
         "encoding": {
           "x": {"datum": 0, "type": "quantitative", "scale": {"domain": [0, 1], "nice": false, "zero": false}, "axis": null},
           "y": {"field": "v", "type": "quantitative", "scale": {"domain": [-0.2, 1.4], "nice": false, "zero": false}, "axis": null},
           "size": {"field": "m", "type": "ordinal", "scale": {"domain": ["M", "m"], "range": [20, 10]}, "legend": null}
         }},
        {"data": {"name": "yt"}, "transform": [{"filter": "datum.p == 'c'"}],
         "mark": {"type": "tick", "orient": "horizontal", "clip": true, "thickness": 2, "color": "black", "opacity": 1},
         "encoding": {
           "x": {"datum": 1, "type": "quantitative", "scale": {"domain": [0, 1], "nice": false, "zero": false}, "axis": null},
           "y": {"field": "v", "type": "quantitative", "scale": {"domain": [-0.2, 1.4], "nice": false, "zero": false}, "axis": null},
           "size": {"field": "m", "type": "ordinal", "scale": {"domain": ["M", "m"], "range": [20, 10]}, "legend": null}
         }},
        {"data": {"name": "xt"},
         "mark": {"type": "tick", "orient": "vertical", "clip": true, "thickness": 2, "color": "black", "opacity": 1},
         "encoding": {
           "x": {"field": "r", "type": "quantitative", "scale": {"domain": [0, 1], "nice": false, "zero": false}, "axis": null},
           "y": {"datum": -0.2, "type": "quantitative", "scale": {"domain": [-0.2, 1.4], "nice": false, "zero": false}, "axis": null},
           "size": {"field": "m", "type": "ordinal", "scale": {"domain": ["M", "m"], "range": [20, 10]}, "legend": null}
         }},
        {"data": {"name": "xt"},
         "mark": {"type": "tick", "orient": "vertical", "clip": true, "thickness": 2, "color": "black", "opacity": 1},
         "encoding": {
           "x": {"field": "r", "type": "quantitative", "scale": {"domain": [0, 1], "nice": false, "zero": false}, "axis": null},
           "y": {"datum": 1.4, "type": "quantitative", "scale": {"domain": [-0.2, 1.4], "nice": false, "zero": false}, "axis": null},
           "size": {"field": "m", "type": "ordinal", "scale": {"domain": ["M", "m"], "range": [20, 10]}, "legend": null}
         }}
      ]
    },
    {
      "width": 705, "height": 268,
      "resolve": {"axis": {"x": "independent", "y": "independent"}},
      "layer": [
        {"data": {"name": "pd"}, "transform": [{"filter": "datum.c == 'd' && datum.s == 'NB'"}],
         "mark": {"type": "line", "color": "#1414e6", "strokeWidth": 4, "strokeDash": [4, 6]},
         "encoding": {
           "x": {"field": "r", "type": "quantitative", "scale": {"domain": [0, 1], "nice": false, "zero": false},
                 "axis": {"orient": "bottom", "values": [0,0.2,0.4,0.6,0.8,1],
                          "labelExpr": "'' + datum.value",
                          "ticks": false, "labelPadding": 3, "labelFontSize": 30, "title": "規格化小半径", "titleFontSize": 29, "titleBaseline": "top", "titleY": 25}},
           "y": {"field": "v", "type": "quantitative", "scale": {"domain": [-0.1, 0.6], "nice": false, "zero": false},
                 "axis": {"orient": "left", "values": [-0.1,0,0.1,0.2,0.3,0.4,0.5,0.6],
                          "labelExpr": "datum.value < 0.55 ? '' + datum.value : ''",
                          "ticks": false, "labelPadding": 20, "title": "電流密度 [MA/m²]", "titleX": -151, "titleBaseline": "middle"}}
         }},
        {"data": {"name": "pd"}, "transform": [{"filter": "datum.c == 'd' && datum.s == 'BS'"}],
         "mark": {"type": "line", "color": "#ea1a1a", "strokeWidth": 4, "strokeDash": [4, 6]},
         "encoding": {
           "x": {"field": "r", "type": "quantitative", "scale": {"domain": [0, 1], "nice": false, "zero": false}, "axis": null},
           "y": {"field": "v", "type": "quantitative", "scale": {"domain": [-0.1, 0.6], "nice": false, "zero": false}, "axis": null}
         }},
        {"data": {"name": "pd"}, "transform": [{"filter": "datum.c == 'd' && datum.s == 'EC'"}],
         "mark": {"type": "line", "color": "#1e6b2e", "strokeWidth": 4, "strokeDash": [4, 6]},
         "encoding": {
           "x": {"field": "r", "type": "quantitative", "scale": {"domain": [0, 1], "nice": false, "zero": false}, "axis": null},
           "y": {"field": "v", "type": "quantitative", "scale": {"domain": [-0.1, 0.6], "nice": false, "zero": false}, "axis": null}
         }},
        {"data": {"name": "pd"}, "transform": [{"filter": "datum.c == 's' && datum.s == 'NB'"}],
         "mark": {"type": "line", "color": "#1414e6", "strokeWidth": 3.5},
         "encoding": {
           "x": {"field": "r", "type": "quantitative", "scale": {"domain": [0, 1], "nice": false, "zero": false}, "axis": null},
           "y": {"field": "v", "type": "quantitative", "scale": {"domain": [-0.1, 0.6], "nice": false, "zero": false}, "axis": null}
         }},
        {"data": {"name": "pd"}, "transform": [{"filter": "datum.c == 's' && datum.s == 'BS'"}],
         "mark": {"type": "line", "color": "#ea1a1a", "strokeWidth": 3.5},
         "encoding": {
           "x": {"field": "r", "type": "quantitative", "scale": {"domain": [0, 1], "nice": false, "zero": false}, "axis": null},
           "y": {"field": "v", "type": "quantitative", "scale": {"domain": [-0.1, 0.6], "nice": false, "zero": false}, "axis": null}
         }},
        {"data": {"name": "pd"}, "transform": [{"filter": "datum.c == 's' && datum.s == 'EC'"}],
         "mark": {"type": "line", "color": "#1e6b2e", "strokeWidth": 3.5},
         "encoding": {
           "x": {"field": "r", "type": "quantitative", "scale": {"domain": [0, 1], "nice": false, "zero": false}, "axis": null},
           "y": {"field": "v", "type": "quantitative", "scale": {"domain": [-0.1, 0.6], "nice": false, "zero": false}, "axis": null}
         }},
        {"data": {"name": "ann"}, "transform": [{"filter": "datum.p == 'd' && datum.k == 'tag'"}],
         "mark": {"type": "text", "align": "left", "baseline": "middle", "font": "Liberation Sans", "fontSize": 32, "color": "black"},
         "encoding": {
           "x": {"field": "r", "type": "quantitative", "scale": {"domain": [0, 1], "nice": false, "zero": false}, "axis": null},
           "y": {"field": "v", "type": "quantitative", "scale": {"domain": [-0.1, 0.6], "nice": false, "zero": false}, "axis": null},
           "text": {"field": "t"}
         }},
        {"data": {"name": "ann"}, "transform": [{"filter": "datum.p == 'd' && (datum.k == 'NB' || datum.k == 'EC')"}],
         "mark": {"type": "text", "align": "center", "baseline": "middle", "font": "Liberation Sans", "fontSize": 37},
         "encoding": {
           "x": {"field": "r", "type": "quantitative", "scale": {"domain": [0, 1], "nice": false, "zero": false}, "axis": null},
           "y": {"field": "v", "type": "quantitative", "scale": {"domain": [-0.1, 0.6], "nice": false, "zero": false}, "axis": null},
           "color": {"field": "k", "type": "nominal", "scale": {"domain": ["NB", "EC", "BS"], "range": ["#1414e6", "#1e6b2e", "#ea1a1a"]}, "legend": null},
           "text": {"field": "t"}
         }},
        {"data": {"name": "ann"}, "transform": [{"filter": "datum.p == 'd' && datum.k == 'BS'"}],
         "mark": {"type": "text", "align": "center", "baseline": "middle", "font": "Noto Sans CJK JP", "fontSize": 42, "color": "#ea1a1a"},
         "encoding": {
           "x": {"field": "r", "type": "quantitative", "scale": {"domain": [0, 1], "nice": false, "zero": false}, "axis": null},
           "y": {"field": "v", "type": "quantitative", "scale": {"domain": [-0.1, 0.6], "nice": false, "zero": false}, "axis": null},
           "text": {"field": "t"}
         }},
        {"data": {"name": "yt"}, "transform": [{"filter": "datum.p == 'd'"}],
         "mark": {"type": "tick", "orient": "horizontal", "clip": true, "thickness": 2, "color": "black", "opacity": 1},
         "encoding": {
           "x": {"datum": 0, "type": "quantitative", "scale": {"domain": [0, 1], "nice": false, "zero": false}, "axis": null},
           "y": {"field": "v", "type": "quantitative", "scale": {"domain": [-0.1, 0.6], "nice": false, "zero": false}, "axis": null},
           "size": {"field": "m", "type": "ordinal", "scale": {"domain": ["M", "m"], "range": [20, 10]}, "legend": null}
         }},
        {"data": {"name": "yt"}, "transform": [{"filter": "datum.p == 'd'"}],
         "mark": {"type": "tick", "orient": "horizontal", "clip": true, "thickness": 2, "color": "black", "opacity": 1},
         "encoding": {
           "x": {"datum": 1, "type": "quantitative", "scale": {"domain": [0, 1], "nice": false, "zero": false}, "axis": null},
           "y": {"field": "v", "type": "quantitative", "scale": {"domain": [-0.1, 0.6], "nice": false, "zero": false}, "axis": null},
           "size": {"field": "m", "type": "ordinal", "scale": {"domain": ["M", "m"], "range": [20, 10]}, "legend": null}
         }},
        {"data": {"name": "xt"},
         "mark": {"type": "tick", "orient": "vertical", "clip": true, "thickness": 2, "color": "black", "opacity": 1},
         "encoding": {
           "x": {"field": "r", "type": "quantitative", "scale": {"domain": [0, 1], "nice": false, "zero": false}, "axis": null},
           "y": {"datum": -0.1, "type": "quantitative", "scale": {"domain": [-0.1, 0.6], "nice": false, "zero": false}, "axis": null},
           "size": {"field": "m", "type": "ordinal", "scale": {"domain": ["M", "m"], "range": [20, 10]}, "legend": null}
         }},
        {"data": {"name": "xt"},
         "mark": {"type": "tick", "orient": "vertical", "clip": true, "thickness": 2, "color": "black", "opacity": 1},
         "encoding": {
           "x": {"field": "r", "type": "quantitative", "scale": {"domain": [0, 1], "nice": false, "zero": false}, "axis": null},
           "y": {"datum": 0.6, "type": "quantitative", "scale": {"domain": [-0.1, 0.6], "nice": false, "zero": false}, "axis": null},
           "size": {"field": "m", "type": "ordinal", "scale": {"domain": ["M", "m"], "range": [20, 10]}, "legend": null}
         }}
      ]
    }
  ],
  "config": {
    "view": {"stroke": "black", "strokeWidth": 3},
    "axis": {"domain": false, "grid": false, "labelFont": "Liberation Sans", "labelFontSize": 31, "labelColor": "black", "titleFont": "Noto Sans CJK JP", "titleFontSize": 30, "titleFontWeight": "normal", "titleColor": "black", "labelOverlap": false, "labelFlush": false}
  }
}
